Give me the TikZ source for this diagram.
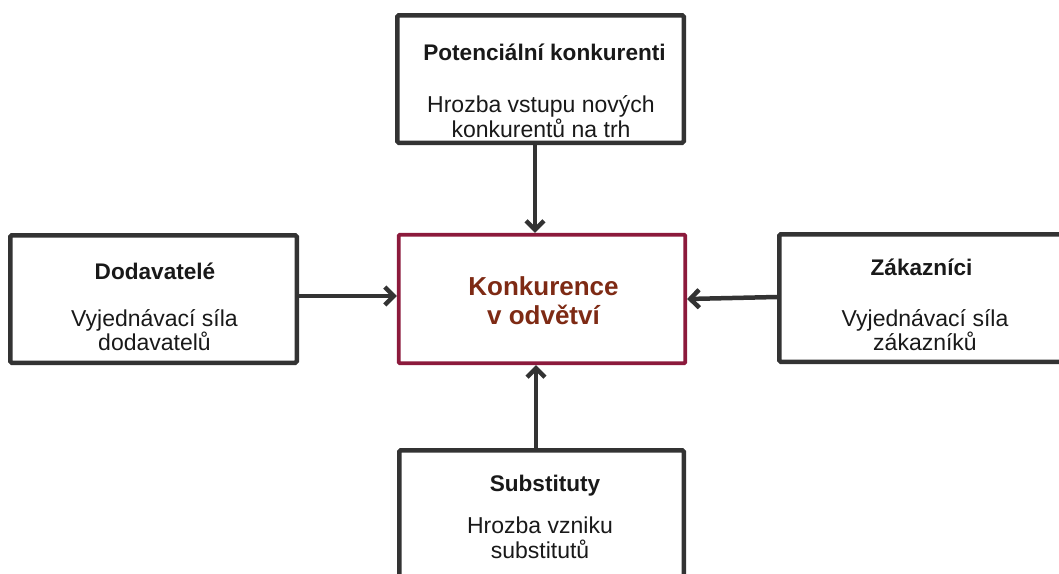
\documentclass[tikz,border=0pt]{standalone}
\usepackage{fontspec}
\setmainfont{Liberation Sans}
\usetikzlibrary{arrows.meta}
\definecolor{boxgray}{HTML}{333333}
\definecolor{maroonline}{HTML}{8C1A3C}
\definecolor{maroontext}{HTML}{7E2A14}
\tikzset{
  forcebox/.style={draw=boxgray, line width=4.5pt, rounded corners=1.5pt, fill=white,
    inner sep=0pt, minimum width=286.5pt, minimum height=127.5pt},
  centerbox/.style={draw=maroonline, line width=3.6pt, rounded corners=1pt, fill=white,
    inner sep=0pt, minimum width=286.5pt, minimum height=128.5pt},
  title/.style={anchor=base, inner sep=0pt, font=\fontsize{22.6}{25}\selectfont\bfseries, text=black!90},
  body/.style={anchor=base, inner sep=0pt, font=\fontsize{23}{25}\selectfont, text=black!90},
  headline/.style={anchor=base, inner sep=0pt, font=\fontsize{26}{29}\selectfont\bfseries, text=maroontext},
  force/.style={draw=boxgray, line width=4.5pt, -{Straight Barb[length=9pt, width=18pt, line width=4.5pt]}}
}
\begin{document}
\begin{tikzpicture}[x=1pt, y=-1pt]
  \useasboundingbox (0,0) rectangle (1059,573);
  \clip (0,0) rectangle (1059,573);

  % the five boxes
  \node[forcebox] (pk) at (540.5,79) {};
  \node[centerbox] (ko) at (542,299) {};
  \node[forcebox] (dv) at (153.5,299) {};
  \node[forcebox, minimum width=287.5pt] (zk) at (923,298) {};
  \node[forcebox, minimum width=284.5pt, minimum height=129.5pt] (sb) at (541.5,515) {};

  % texts
  \node[title] (pk-t) at (544.5,60) {Potenciální konkurenti};
  \node[body] (pk-1) at (541,112) {Hrozba vstupu nových};
  \node[body] (pk-2) at (541,137) {konkurentů na trh};

  \node[headline] (ko-1) at (543.5,295) {Konkurence};
  \node[headline] (ko-2) at (543.5,324) {v odvětví};

  \node[title] (dv-t) at (155,279) {Dodavatelé};
  \node[body] (dv-1) at (154.5,326) {Vyjednávací síla};
  \node[body] (dv-2) at (154.5,350) {dodavatelů};

  \node[title] (zk-t) at (921.5,275) {Zákazníci};
  \node[body] (zk-1) at (925,326) {Vyjednávací síla};
  \node[body] (zk-2) at (925,350) {zákazníků};

  \node[title] (sb-t) at (545,491) {Substituty};
  \node[body] (sb-1) at (540,533) {Hrozba vzniku};
  \node[body] (sb-2) at (540,558) {substitutů};

  % forces acting on the industry
  \draw[force] ([xshift=-5.5pt]pk.south) -- ([xshift=-7pt]ko.north);
  \draw[force] ([xshift=-5.5pt]sb.north) -- ([xshift=-6pt]ko.south);
  \draw[force] ([yshift=3pt]dv.east) -- ([yshift=3pt]ko.west);
  \draw[force] ([yshift=1pt]zk.west) -- ([yshift=0pt]ko.east);
\end{tikzpicture}
\end{document}
